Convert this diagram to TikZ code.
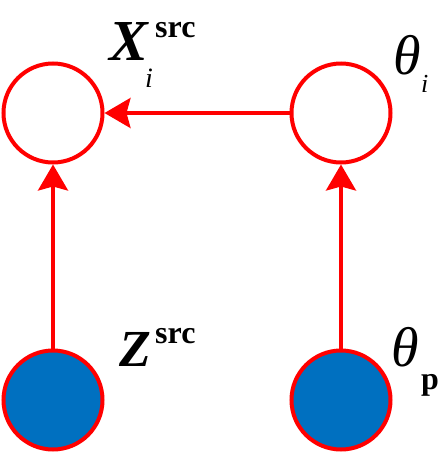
\documentclass[tikz,border=0pt]{standalone}
\usepackage{fontspec}
\setmainfont{Liberation Serif}
\usetikzlibrary{arrows.meta}
\definecolor{nodered}{RGB}{255,0,0}
\definecolor{nodeblue}{RGB}{0,112,192}
\tikzset{
  var/.style={circle, draw=nodered, line width=4pt, minimum size=99pt, inner sep=0pt},
  obs/.style={var, fill=nodeblue},
  lat/.style={var, fill=white},
  edge/.style={draw=nodered, line width=3.5pt, -{Stealth[length=26pt, width=30pt, inset=4pt]}},
  lbl/.style={inner sep=0pt, anchor=base west},
}
\begin{document}
\begin{tikzpicture}[x=1pt, y=-1pt]
\useasboundingbox (0,0) rectangle (447,453);
\node[lat] (X) at (53,113) {};
\node[lat] (T) at (341,113) {};
\node[obs] (Z) at (53,400) {};
\node[obs] (P) at (341,400) {};
\draw[edge] (T) -- (X);
\draw[edge] (Z) -- (X);
\draw[edge] (P) -- (T);
% labels
\node[lbl, text depth=0pt] (Xl) at (109,60) {\fontsize{58}{58}\selectfont\bfseries\itshape X};
\node[lbl] (Xs) at (155,37) {\fontsize{32}{32}\selectfont\bfseries src};
\node[lbl, text height=18pt] (Xi) at (145,87) {\fontsize{28}{28}\selectfont\itshape i};
\node[lbl] (Tl) at (393,74) {\fontsize{56}{56}\selectfont\itshape θ};
\node[lbl, text height=16pt] (Ti) at (421,92) {\fontsize{26}{26}\selectfont\itshape i};
\node[lbl] (Zl) at (119,366) {\fontsize{52}{52}\selectfont\bfseries\itshape Z};
\node[lbl] (Zs) at (155,343) {\fontsize{32}{32}\selectfont\bfseries src};
\node[lbl] (Pl) at (391,366) {\fontsize{56}{56}\selectfont\itshape θ};
\node[lbl] (Pp) at (421,389) {\fontsize{32}{32}\selectfont\bfseries p};
\end{tikzpicture}
\end{document}
